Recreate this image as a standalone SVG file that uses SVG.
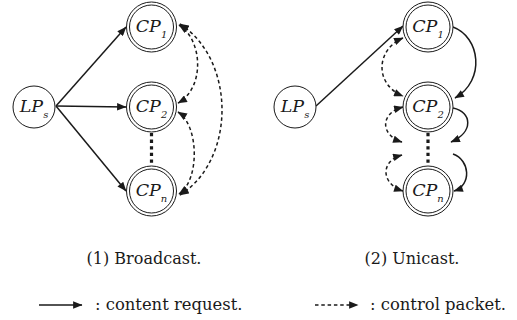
<svg xmlns="http://www.w3.org/2000/svg" width="517" height="320" viewBox="0 0 517 320">
  <style>
    .bg { fill: #ffffff; }
    .node circle { fill: #ffffff; stroke: #1a1a1a; stroke-width: 1; }
    .label { font-family: "DejaVu Serif", "Liberation Serif", serif; font-style: italic; font-size: 17.5px; fill: #1a1a1a; }
    .sub { font-size: 10px; }
    .req { fill: none; stroke: #1a1a1a; stroke-width: 1.5; marker-end: url(#head); }
    .ctl { fill: none; stroke: #1a1a1a; stroke-width: 1.5; stroke-dasharray: 3.5 2.8; marker-start: url(#head); marker-end: url(#head); }
    .ctl1 { fill: none; stroke: #1a1a1a; stroke-width: 1.5; stroke-dasharray: 3.5 2.8; marker-end: url(#head); }
    .dots { fill: none; stroke: #1a1a1a; stroke-width: 3.2; stroke-dasharray: 3.3 3.3; }
    .caption { font-family: "DejaVu Serif", "Liberation Serif", serif; font-size: 16px; fill: #1a1a1a; }
    .legend { font-family: "DejaVu Serif", "Liberation Serif", serif; font-size: 16.4px; fill: #1a1a1a; }
  </style>
  <defs>
    <marker id="head" viewBox="0 0 10 8" refX="9.5" refY="4" markerWidth="10" markerHeight="7.5" markerUnits="userSpaceOnUse" orient="auto-start-reverse">
      <path d="M0,0 L10,4 L0,8 z" fill="#1a1a1a"/>
    </marker>
  </defs>
  <rect class="bg" x="0" y="0" width="517" height="320"/>

  <!-- connectors -->
  <g id="connectors">
    <!-- broadcast: LP_s to every CP -->
    <path class="req" d="M56,106 L126,27"/>
    <path class="req" d="M56,106 L126,107"/>
    <path class="req" d="M56,106 L126,191"/>
    <!-- broadcast: control exchange between CPs -->
    <path class="ctl" d="M179,25 C203,40 205,88 178,103"/>
    <path class="ctl" d="M178,112 C199,125 200,180 179,194"/>
    <path class="ctl" d="M180,24 C236,60 236,160 180,195"/>
    <line class="dots" x1="151.5" y1="133" x2="151.5" y2="165"/>

    <!-- unicast: LP_s to CP_1, then hop by hop -->
    <path class="req" d="M316,106 L403,26"/>
    <path class="req" d="M453,27 C480,37 486,80 455,98"/>
    <path class="req" d="M453,108 C472,112 474,132 451,142"/>
    <path class="req" d="M453,154 C470,160 472,185 454,191"/>
    <!-- unicast: control packets -->
    <path class="ctl" d="M403,38 C375,50 375,85 403,96"/>
    <path class="ctl" d="M403,107 C380,113 380,135 402,142"/>
    <path class="ctl" d="M402,155 C380,161 381,184 403,191"/>
    <line class="dots" x1="428" y1="133" x2="428" y2="165"/>

    <!-- legend arrows -->
    <path class="req" d="M39,305 L82,305"/>
    <path class="ctl1" d="M315,305 L358,305"/>
  </g>

  <!-- broadcast nodes -->
  <g id="b-lps" class="node">
    <circle cx="34" cy="107" r="21"/>
    <text class="label" x="34" y="111.5" text-anchor="middle">LP<tspan class="sub" dy="6">s</tspan></text>
  </g>
  <g id="b-cp1" class="node">
    <circle cx="151.5" cy="27" r="25"/>
    <circle cx="151.5" cy="27" r="22"/>
    <text class="label" x="151.5" y="32" text-anchor="middle">CP<tspan class="sub" dy="5.5">1</tspan></text>
  </g>
  <g id="b-cp2" class="node">
    <circle cx="151.5" cy="107" r="25"/>
    <circle cx="151.5" cy="107" r="22"/>
    <text class="label" x="151.5" y="112" text-anchor="middle">CP<tspan class="sub" dy="5.5">2</tspan></text>
  </g>
  <g id="b-cpn" class="node">
    <circle cx="151.5" cy="191" r="25"/>
    <circle cx="151.5" cy="191" r="22"/>
    <text class="label" x="151.5" y="196" text-anchor="middle">CP<tspan class="sub" dy="5.5">n</tspan></text>
  </g>

  <!-- unicast nodes -->
  <g id="u-lps" class="node">
    <circle cx="295" cy="107" r="21"/>
    <text class="label" x="295" y="111.5" text-anchor="middle">LP<tspan class="sub" dy="6">s</tspan></text>
  </g>
  <g id="u-cp1" class="node">
    <circle cx="428" cy="27" r="25"/>
    <circle cx="428" cy="27" r="22"/>
    <text class="label" x="428" y="32" text-anchor="middle">CP<tspan class="sub" dy="5.5">1</tspan></text>
  </g>
  <g id="u-cp2" class="node">
    <circle cx="428" cy="107" r="25"/>
    <circle cx="428" cy="107" r="22"/>
    <text class="label" x="428" y="112" text-anchor="middle">CP<tspan class="sub" dy="5.5">2</tspan></text>
  </g>
  <g id="u-cpn" class="node">
    <circle cx="428" cy="191" r="25"/>
    <circle cx="428" cy="191" r="22"/>
    <text class="label" x="428" y="196" text-anchor="middle">CP<tspan class="sub" dy="5.5">n</tspan></text>
  </g>

  <!-- captions -->
  <text class="caption" x="144" y="264" text-anchor="middle">(1) Broadcast.</text>
  <text class="caption" x="412" y="264" text-anchor="middle">(2) Unicast.</text>

  <!-- legend -->
  <text class="legend" x="95" y="310">: content request.</text>
  <text class="legend" x="370" y="310">: control packet.</text>
</svg>
